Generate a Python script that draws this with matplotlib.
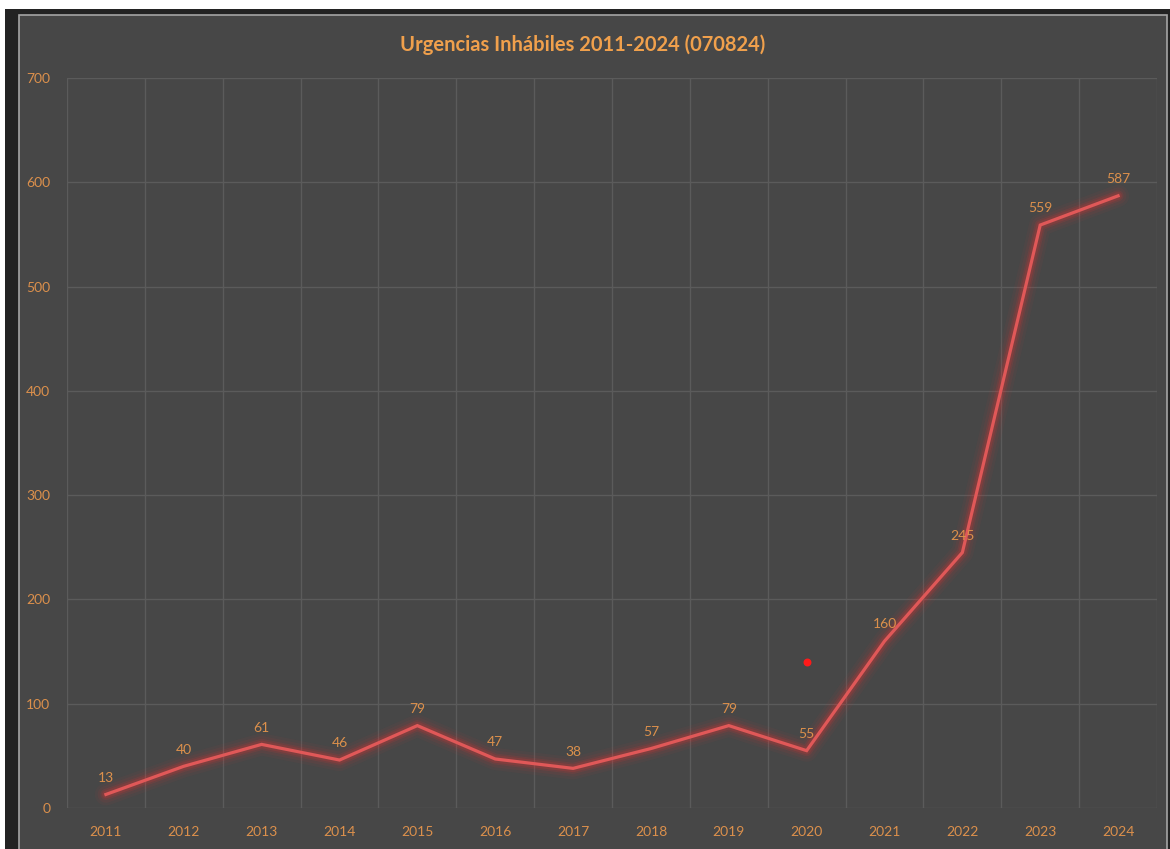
import matplotlib.pyplot as plt
import matplotlib.patches as patches
import numpy as np

# Data
years = ["2011", "2012", "2013", "2014", "2015", "2016", "2017",
         "2018", "2019", "2020", "2021", "2022", "2023", "2024"]
urgencias = [13, 40, 61, 46, 79, 47, 38, 57, 79, 55, 160, 245, 559, 587]

# stray red dot seen in the picture
dot_year = "2020"
dot_value = 140

# Colors
bg_color = "#474747"
grid_color = "#5b5b5b"
text_color = "#dc904c"
line_color = "#e05858"

plt.rcParams['font.family'] = ['Lato', 'DejaVu Sans']

fig = plt.figure(figsize=(11.7, 8.49), dpi=100, facecolor="white")

# dark outer frame and chart area
W, H = 1170, 849
fig.patches.append(patches.Rectangle((5 / W, 0), 1, 1 - 9 / H, transform=fig.transFigure,
                                     facecolor="#232323", edgecolor="none", zorder=0))
fig.patches.append(patches.Rectangle((19 / W, -0.01), (1167 - 19) / W, 1 - 15 / H + 0.01,
                                     transform=fig.transFigure, facecolor=bg_color,
                                     edgecolor="#a5a5a5", linewidth=1.2, zorder=0.5))

ax = fig.add_axes([67 / W, 1 - 808 / H, (1157 - 67) / W, (808 - 78) / H])
ax.set_zorder(2)
ax.set_facecolor("none")

x = np.arange(len(years))

# glow behind the line
for lw, a in [(16, 0.04), (12, 0.06), (8, 0.10), (5.5, 0.15)]:
    ax.plot(x, urgencias, color="#ff3030", linewidth=lw, alpha=a,
            solid_joinstyle="round", solid_capstyle="round", zorder=3)
ax.plot(x, urgencias, color=line_color, linewidth=2.3, zorder=4,
        solid_joinstyle="miter")

# data labels
for xi, v in zip(x, urgencias):
    ax.annotate(str(v), (xi, v), xytext=(0, 12), textcoords="offset points",
                ha="center", va="center", color=text_color, fontsize=10, zorder=5)

ax.scatter([years.index(dot_year)], [dot_value], color="#ff1a1a", s=22, zorder=5)

ax.set_xlim(-0.5, len(years) - 0.5)
ax.set_ylim(0, 700)
ax.set_yticks(range(0, 701, 100))
ax.set_xticks(x)
ax.set_xticklabels(years)
ax.set_xticks(np.arange(-0.5, len(years), 1), minor=True)

ax.grid(True, axis="y", which="major", color=grid_color, linewidth=1)
ax.grid(True, axis="x", which="minor", color=grid_color, linewidth=1)
ax.set_axisbelow(True)
ax.tick_params(axis="both", which="both", length=0, colors=text_color, labelsize=10)
ax.tick_params(axis="x", pad=13)
ax.tick_params(axis="y", pad=12)
for s in ax.spines.values():
    s.set_visible(False)

fig.text(583 / W, 1 - 45 / H, "Urgencias Inhábiles 2011-2024 (070824)", ha="center", va="center",
         color="#f0a04c", fontsize=14.5, fontweight="bold", zorder=3)

fig.savefig("out.png", dpi=100, facecolor=fig.get_facecolor())
